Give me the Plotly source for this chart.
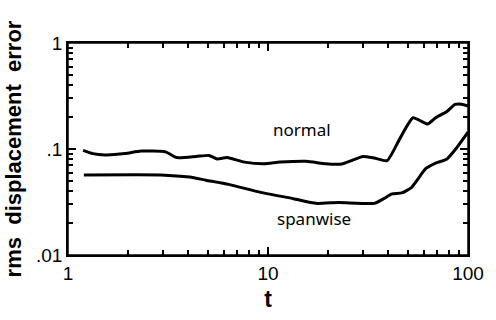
import plotly.graph_objects as go

# rms displacement error versus time, two components
t_normal = [1.19, 1.33, 1.54, 1.93, 2.32, 3.07, 3.5, 4.37, 5.07, 5.57, 6.24, 7.64,
            9.56, 11.5, 15.5, 19.4, 23.4, 26.1, 29.8, 34.0, 39.4, 45.7, 53.1, 62.8,
            68.9, 78.5, 86.1, 92.9, 100]
err_normal = [0.097, 0.0905, 0.088, 0.0905, 0.0955, 0.094, 0.083, 0.085, 0.087, 0.0805,
              0.083, 0.0752, 0.0726, 0.0752, 0.0767, 0.0726, 0.0722, 0.0777, 0.0851,
              0.0822, 0.0777, 0.126, 0.197, 0.172, 0.197, 0.226, 0.263, 0.265, 0.254]

t_span = [1.2, 2.9, 4.06, 4.89, 6.35, 9.2, 13.4, 17.4, 22.5, 34.0, 37.9, 41.7, 46.6,
          52.1, 61.6, 68.9, 78.5, 87.7, 100]
err_span = [0.057, 0.057, 0.0543, 0.0508, 0.0464, 0.039, 0.034, 0.0307, 0.0313, 0.0307,
            0.034, 0.0377, 0.0385, 0.0433, 0.0655, 0.0736, 0.0805, 0.1025, 0.144]

x_ticks = [1, 10, 100]
x_labels = ["1", "10", "100"]
y_ticks = [0.01, 0.1, 1]
y_labels = [".01", ".1", "1"]
x_minor = [m * d for d in (1, 10) for m in range(2, 10)]
y_minor = [m * d for d in (0.01, 0.1) for m in range(2, 10)]

fig = go.Figure()
for tt, ee in [(t_normal, err_normal), (t_span, err_span)]:
    fig.add_trace(go.Scatter(x=tt, y=ee, mode="lines", line=dict(color="black", width=3),
                             line_shape="spline", line_smoothing=0.5, showlegend=False))

# empty carriers so the extra tick axes get drawn
for k in (2, 3, 4):
    fig.add_trace(go.Scatter(x=[x_ticks[0], x_ticks[-1]], y=[y_ticks[0], y_ticks[-1]],
                             xaxis=f"x{k}", yaxis=f"y{k}", mode="markers",
                             marker=dict(opacity=0), hoverinfo="skip", showlegend=False))

fig.add_annotation(x=1.17, y=-0.82, xref="x", yref="y", text="normal", showarrow=False,
                   font=dict(family="Noto Sans", size=17, color="black"))
fig.add_annotation(x=1.23, y=-1.66, xref="x", yref="y", text="spanwise", showarrow=False,
                   font=dict(family="Noto Sans", size=17, color="black"))

# frame around the plotting area
fig.add_shape(type="rect", xref="paper", yref="paper", x0=0, x1=1, y0=0, y1=1,
              line=dict(color="black", width=1.5), fillcolor="rgba(0,0,0,0)")

tick_font = dict(family="Liberation Sans", size=19, color="black")


def tick_axis(rng, vals, length, side, over, anchor):
    # unlabelled overlay axis carrying one set of inside tick marks
    return dict(type="log", range=rng, autorange=False, overlaying=over, anchor=anchor,
                side=side, tickmode="array", tickvals=vals, ticks="inside",
                ticklen=length, tickwidth=1.5, tickcolor="black", showticklabels=False,
                showline=True, linecolor="black", linewidth=1.5, showgrid=False,
                zeroline=False)


fig.update_layout(
    xaxis=dict(type="log", range=[0, 2], tickmode="array", tickvals=x_ticks,
               ticktext=x_labels, ticks="inside", ticklen=8, tickwidth=1.5,
               tickcolor="black", tickfont=tick_font, showline=True, linecolor="black",
               linewidth=1.5, showgrid=False, zeroline=False,
               title=dict(text="<b>t</b>", standoff=8,
                          font=dict(family="Liberation Sans", size=23, color="black"))),
    yaxis=dict(type="log", range=[-2, 0], tickmode="array", tickvals=y_ticks,
               ticktext=y_labels, ticks="inside", ticklen=8, tickwidth=1.5,
               tickcolor="black", tickfont=tick_font, showline=True, linecolor="black",
               linewidth=1.5, showgrid=False, zeroline=False,
               title=dict(text="<b>rms  displacement  error</b>", standoff=8,
                          font=dict(family="Liberation Sans", size=22, color="black"))),
    xaxis2=tick_axis([0, 2], x_minor, 5, "bottom", "x", "y2"),
    yaxis2=tick_axis([-2, 0], y_minor, 5, "left", "y", "x2"),
    xaxis3=tick_axis([0, 2], x_ticks, 8, "top", "x", "y3"),
    yaxis3=tick_axis([-2, 0], y_ticks, 8, "right", "y", "x3"),
    xaxis4=tick_axis([0, 2], x_minor, 5, "top", "x", "y4"),
    yaxis4=tick_axis([-2, 0], y_minor, 5, "right", "y", "x4"),
)

fig.update_layout(width=496, height=320, margin=dict(l=68, r=16, t=43, b=55),
                  plot_bgcolor="white", paper_bgcolor="white")

fig.write_html("out.html")
